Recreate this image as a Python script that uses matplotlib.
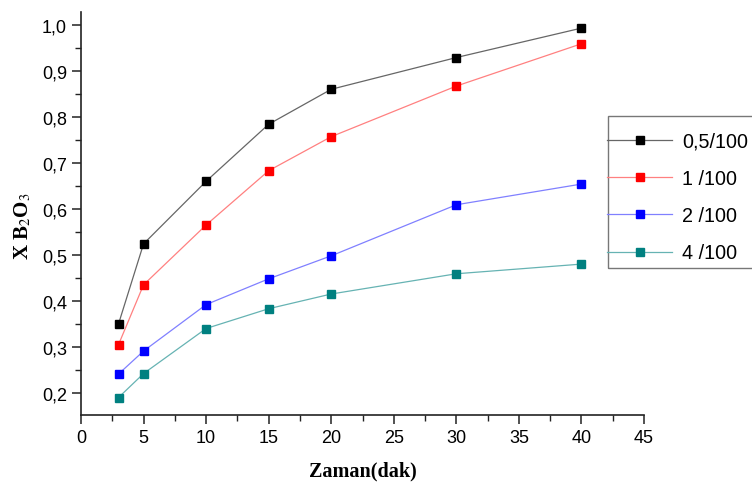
import numpy as np
import matplotlib.pyplot as plt
from matplotlib.patches import Rectangle
from matplotlib.ticker import MultipleLocator, FuncFormatter

plt.rcParams['font.family'] = ['Liberation Sans', 'DejaVu Sans']
plt.rcParams['mathtext.fontset'] = 'stix'

zaman = [3, 5, 10, 15, 20, 30, 40]
labels = ["0,5/100", "1 /100", "2 /100", "4 /100"]
colors = ["#000000", "#ff0000", "#0000ff", "#008080"]
line_colors = ["#666666", "#ff8080", "#8080ff", "#66b3b3"]

x_05 = [0.350, 0.524, 0.660, 0.784, 0.860, 0.929, 0.993]
x_1 = [0.305, 0.435, 0.565, 0.683, 0.757, 0.867, 0.959]
x_2 = [0.241, 0.291, 0.392, 0.448, 0.498, 0.609, 0.654]
x_4 = [0.190, 0.242, 0.340, 0.383, 0.415, 0.459, 0.480]
series = [x_05, x_1, x_2, x_4]

fig = plt.figure(figsize=(7.52, 4.89), dpi=100)
ax = fig.add_axes([0.1077, 0.1493, 0.7487, 0.8241])

for vals, lab, c, lc in zip(series, labels, colors, line_colors):
    ax.plot(zaman, vals, color=lc, linewidth=0.9, marker='s', markersize=6,
            markerfacecolor=c, markeredgecolor=c, label=lab)

ax.set_xlim(0, 45)
ax.set_ylim(0.152, 1.028)
ax.xaxis.set_major_locator(MultipleLocator(5))
ax.xaxis.set_minor_locator(MultipleLocator(2.5))
ax.yaxis.set_major_locator(MultipleLocator(0.1))
ax.yaxis.set_minor_locator(MultipleLocator(0.05))
ax.yaxis.set_major_formatter(FuncFormatter(lambda v, p: f"{v:.1f}".replace('.', ',')))

for s in ['top', 'right']:
    ax.spines[s].set_visible(False)
for s in ['left', 'bottom']:
    ax.spines[s].set_linewidth(1.2)
    ax.spines[s].set_color('#222222')

ax.tick_params(which='major', length=6.5, width=1.1, labelsize=13, color='#222222', pad=3.5)
ax.tick_params(which='minor', length=4, width=1.0, color='#222222')

ax.set_xlabel("Zaman(dak)", family='Liberation Serif', fontweight='bold', fontsize=14.5)
ax.xaxis.set_label_coords(0.5, -0.112)
ax.set_ylabel(r"X B$_2$O$_3$", family='Liberation Serif', fontweight='bold', fontsize=15)
ax.yaxis.set_label_coords(-0.085, 0.47)

# legend entries without frame, frame drawn separately
leg = fig.legend(loc='upper left', bbox_to_anchor=(607 / 752, 1 - 133 / 489), fontsize=14.2,
                 handlelength=3.3, handletextpad=0.5, labelspacing=0.92,
                 borderpad=0, frameon=False, borderaxespad=0)
fig.add_artist(Rectangle((608 / 752, 1 - 269 / 489), 150 / 752, 152 / 489,
                         transform=fig.transFigure, fill=False,
                         edgecolor='#777777', linewidth=1.0))

fig.savefig("out.png", dpi=100)
